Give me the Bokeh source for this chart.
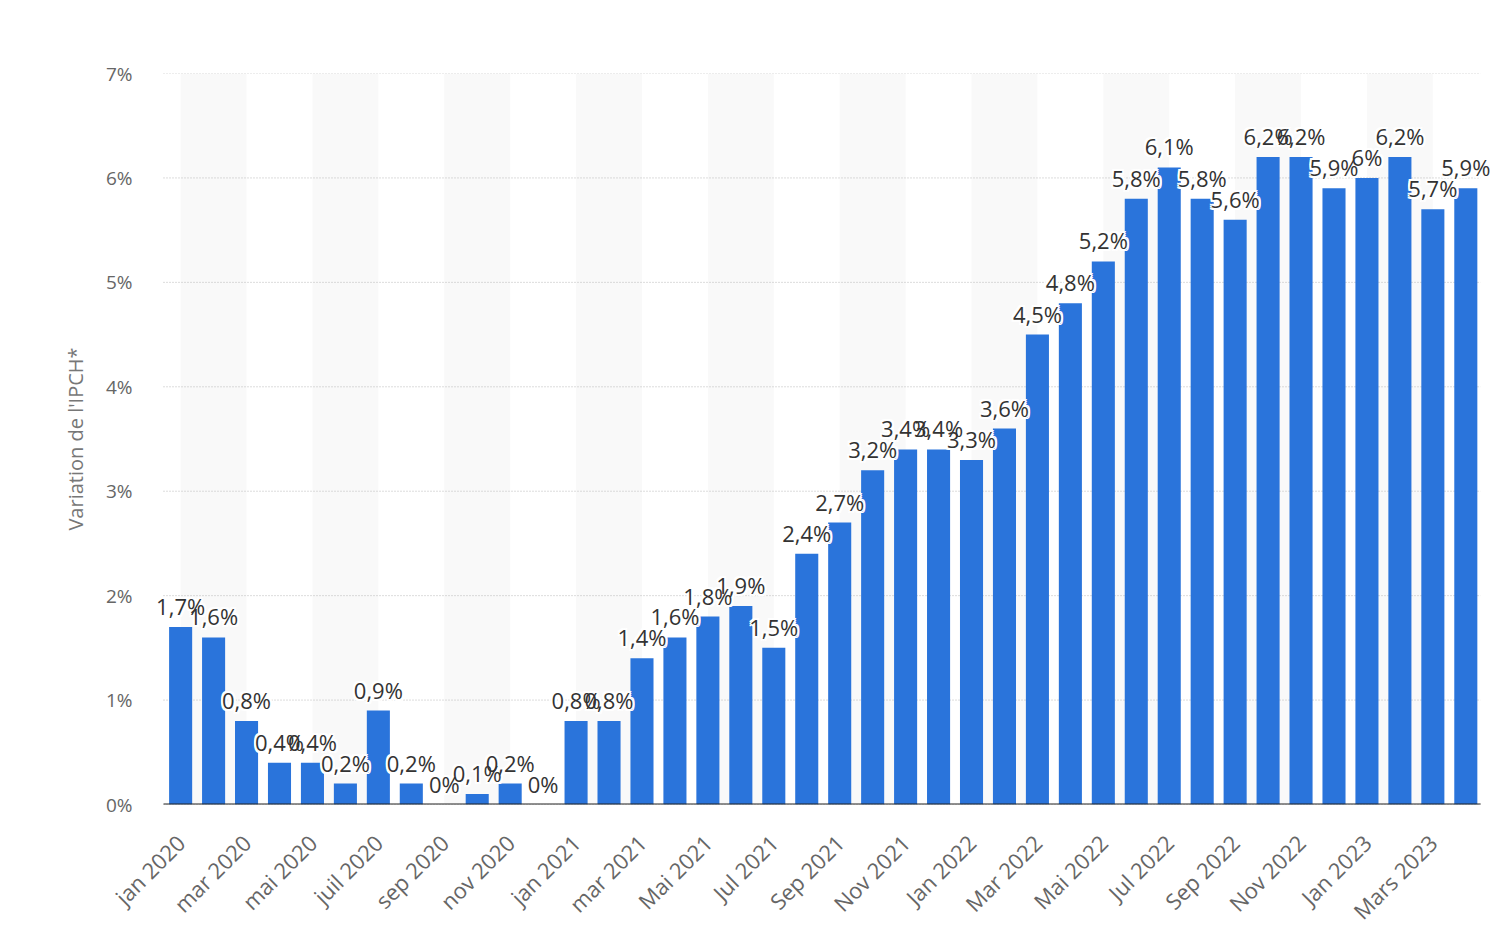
from bokeh.plotting import figure
from bokeh.models import ColumnDataSource, FixedTicker, LabelSet
from bokeh.embed import file_html
from bokeh.resources import INLINE
from bokeh.core.properties import value
import math

months = [
    "jan 2020", "fév 2020", "mar 2020", "avr 2020", "mai 2020", "juin 2020",
    "juil 2020", "août 2020", "sep 2020", "oct 2020", "nov 2020", "déc 2020",
    "jan 2021", "fév 2021", "mar 2021", "avr 2021", "Mai 2021", "Juin 2021",
    "Jul 2021", "Août 2021", "Sep 2021", "Oct 2021", "Nov 2021", "Déc 2021",
    "Jan 2022", "Fév 2022", "Mar 2022", "Avr 2022", "Mai 2022", "Juin 2022",
    "Jul 2022", "Août 2022", "Sep 2022", "Oct 2022", "Nov 2022", "Déc 2022",
    "Jan 2023", "Fév 2023", "Mars 2023", "Avr 2023",
]
values = [
    1.7, 1.6, 0.8, 0.4, 0.4, 0.2, 0.9, 0.2, 0.0, 0.1, 0.2, 0.0,
    0.8, 0.8, 1.4, 1.6, 1.8, 1.9, 1.5, 2.4, 2.7, 3.2, 3.4, 3.4,
    3.3, 3.6, 4.5, 4.8, 5.2, 5.8, 6.1, 5.8, 5.6, 6.2, 6.2, 5.9,
    6.0, 6.2, 5.7, 5.9,
]
tick_labels = [
    "jan 2020", "mar 2020", "mai 2020", "juil 2020", "sep 2020", "nov 2020",
    "jan 2021", "mar 2021", "Mai 2021", "Jul 2021", "Sep 2021", "Nov 2021",
    "Jan 2022", "Mar 2022", "Mai 2022", "Jul 2022", "Sep 2022", "Nov 2022",
    "Jan 2023", "Mars 2023",
]
y_ticks = [0, 1, 2, 3, 4, 5, 6, 7]
y_title = "Variation de l'IPCH*"


def fmt(v):
    if abs(v - round(v)) < 1e-9:
        return f"{int(round(v))}%"
    return f"{v:.1f}".replace(".", ",") + "%"


n = len(months)
idx = list(range(n))
src = ColumnDataSource(dict(x=idx, top=values, label=[fmt(v) for v in values], month=months))

FONT = "Open Sans"
X_LO, X_HI = -0.52, n - 0.55   # extent of the drawn grid / baseline

p = figure(
    width=1492, height=952,
    x_range=(-1.218, n - 0.19), y_range=(0, 7),
    output_backend="svg", toolbar_location=None,
    min_border_left=140, min_border_right=0, min_border_top=73, min_border_bottom=148,
)
p.outline_line_color = None
p.background_fill_color = "white"

# alternating background bands (pairs of months)
band_left = [i for i in range(0, n, 4)]
band_right = [min(i + 2, X_HI) for i in band_left]
bands = p.quad(left=band_left, right=band_right, bottom=0, top=7,
               fill_color="#f9f9f9", line_color=None)
bands.level = "image"

# dotted horizontal gridlines
p.segment(x0=[X_LO] * len(y_ticks), x1=[X_HI] * len(y_ticks), y0=y_ticks, y1=y_ticks,
          line_color="#b8b8b8", line_dash="1 2", line_width=1)

p.vbar(x="x", top="top", width=0.7, source=src, fill_color="#2a74db", line_color=None)

# baseline
p.segment(x0=[X_LO], x1=[X_HI], y0=[0], y1=[0], line_color="#222222", line_width=2)

# value labels with white halo
LBL = dict(text_align="center", text_baseline="alphabetic",
           text_font=value(FONT), text_font_size="22px")
r = 2
offsets = [(-r, 0), (r, 0), (0, -r), (0, r), (-r, -r), (r, -r), (-r, r), (r, r)]
BASE = 12
for dx, dy in offsets:
    p.add_layout(LabelSet(x="x", y="top", text="label", source=src,
                          x_offset=dx, y_offset=BASE + dy,
                          text_color="white", **LBL))
p.add_layout(LabelSet(x="x", y="top", text="label", source=src, y_offset=BASE,
                      text_color="#333333", **LBL))

# axes
p.xaxis.ticker = FixedTicker(ticks=list(range(0, n, 2)))
p.xaxis.major_label_overrides = {i * 2: t for i, t in enumerate(tick_labels)}
p.xaxis.major_label_orientation = math.pi / 4
p.xaxis.major_label_text_font = FONT
p.xaxis.major_label_text_font_size = "22px"
p.xaxis.major_label_text_color = "#666666"
p.xaxis.major_tick_line_color = None
p.xaxis.minor_tick_line_color = None
p.xaxis.major_label_standoff = 28
p.xaxis.axis_line_color = None

p.yaxis.ticker = FixedTicker(ticks=y_ticks)
p.yaxis.major_label_overrides = {t: f"{t}%" for t in y_ticks}
p.yaxis.major_label_text_font = FONT
p.yaxis.major_label_text_font_size = "19px"
p.yaxis.major_label_text_color = "#666666"
p.yaxis.major_tick_line_color = None
p.yaxis.minor_tick_line_color = None
p.yaxis.axis_line_color = None
p.yaxis.major_label_standoff = 2
p.yaxis.axis_label = y_title
p.yaxis.axis_label_text_font = FONT
p.yaxis.axis_label_text_font_size = "20px"
p.yaxis.axis_label_text_font_style = "normal"
p.yaxis.axis_label_text_color = "#777777"
p.yaxis.axis_label_standoff = 14

p.xgrid.grid_line_color = None
p.ygrid.grid_line_color = None

open("out.html", "w").write(file_html(p, INLINE))
